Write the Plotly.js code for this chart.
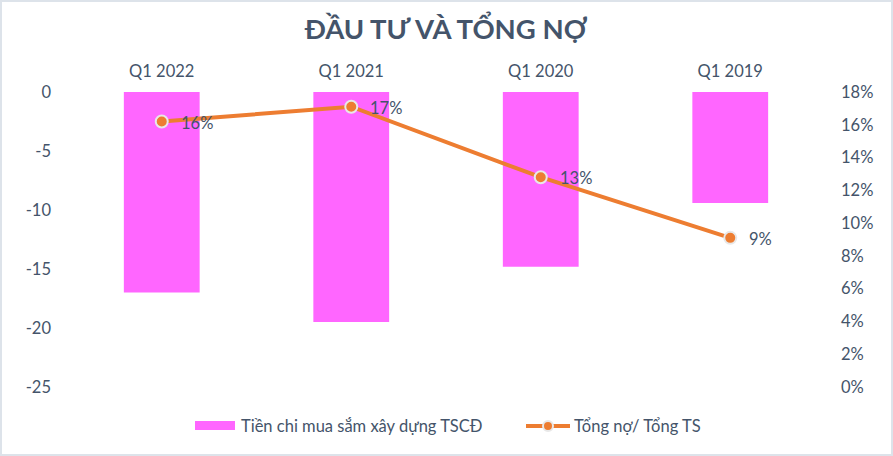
<!DOCTYPE html>
<html>
<head>
<meta charset="utf-8">
<script src="https://cdn.plot.ly/plotly-3.0.1.min.js"></script>
<style>
html,body{margin:0;padding:0;background:#fff;}
#wrap{position:relative;width:893px;height:456px;}
#chart{width:893px;height:456px;}
#frame{position:absolute;left:0;top:0;width:893px;height:456px;box-sizing:border-box;border:2px solid #dde3ea;pointer-events:none;}
</style>
</head>
<body>
<div id="wrap"><div id="chart"></div><div id="frame"></div></div>
<script>
const categories = ["Q1 2022", "Q1 2021", "Q1 2020", "Q1 2019"];
const capex = [-17.0, -19.5, -14.8, -9.4];
const debtRatio = [0.162, 0.171, 0.128, 0.091];
const debtLabels = ["16%", "17%", "13%", "9%"];
const leftTickVals = [0, -5, -10, -15, -20, -25];
const leftTickText = ["0", "-5", "-10", "-15", "-20", "-25"];
const barName = "Tiền chi mua sắm xây dựng TSCĐ";
const lineName = "Tổng nợ/ Tổng TS";

const textColor = "#44546a";
const font = "Lato, 'Open Sans', sans-serif";
const fs = 16.5;
const barColor = "#ff66ff";
const lineColor = "#ed7d31";

const traces = [
  {
    type: "bar",
    name: barName,
    x: categories,
    y: capex,
    marker: {color: barColor},
    yaxis: "y",
    showlegend: false
  },
  {
    type: "scatter",
    mode: "lines+markers",
    name: lineName,
    x: categories,
    y: debtRatio,
    yaxis: "y2",
    line: {color: lineColor, width: 4},
    marker: {color: lineColor, size: 12, line: {color: "#e8e8e8", width: 2}},
    showlegend: false
  }
];

// data labels for line points
const annotations = categories.map((c, i) => ({
  x: c, y: debtRatio[i], xref: "x", yref: "y2",
  text: debtLabels[i], showarrow: false,
  xanchor: "left", yanchor: "middle", xshift: 17, yshift: -1,
  font: {family: font, size: fs, color: textColor}
}));

// custom legend (paper coords: plot x 67..825, y 92..387)
const W = 758, H = 295;
const px = v => (v - 67) / W;
const py = v => (387 - v) / H;
annotations.push({
  x: px(239), y: py(426), xref: "paper", yref: "paper", showarrow: false,
  xanchor: "left", yanchor: "middle", text: barName,
  font: {family: font, size: fs, color: textColor}
});
annotations.push({
  x: px(572), y: py(426), xref: "paper", yref: "paper", showarrow: false,
  xanchor: "left", yanchor: "middle", text: lineName,
  font: {family: font, size: fs, color: textColor}
});
const shapes = [
  {type: "rect", xref: "paper", yref: "paper", x0: px(195), x1: px(235), y0: py(430), y1: py(421),
   fillcolor: barColor, line: {width: 0}},
  {type: "line", xref: "paper", yref: "paper", x0: px(526), x1: px(570), y0: py(426), y1: py(426),
   line: {color: lineColor, width: 4}},
  {type: "circle", xref: "paper", yref: "paper", x0: px(543), x1: px(553), y0: py(431), y1: py(421),
   fillcolor: lineColor, line: {color: "#e8e8e8", width: 2}}
];

const layout = {
  width: 893, height: 456,
  margin: {l: 67, r: 68, t: 92, b: 69},
  paper_bgcolor: "#ffffff",
  plot_bgcolor: "#ffffff",
  font: {family: font, size: fs, color: textColor},
  title: {
    text: "<b>ĐẦU TƯ VÀ TỔNG NỢ</b>",
    font: {family: font, size: 27.5, color: textColor},
    x: 0.5, xanchor: "center", xref: "paper",
    y: 0.935, yanchor: "middle", yref: "container"
  },
  bargap: 0.6,
  showlegend: false,
  annotations: annotations,
  shapes: shapes,
  xaxis: {
    side: "top",
    type: "category",
    showgrid: false, zeroline: false, showline: false, ticks: "",
    tickfont: {family: font, size: fs, color: textColor},
    ticklabelstandoff: 11
  },
  yaxis: {
    range: [-25, 0],
    tickvals: leftTickVals,
    ticktext: leftTickText,
    showgrid: false, zeroline: false, showline: false, ticks: "",
    tickfont: {family: font, size: fs, color: textColor},
    ticklabelstandoff: 15
  },
  yaxis2: {
    overlaying: "y",
    side: "right",
    range: [0, 0.18],
    dtick: 0.02,
    tickformat: ".0%",
    showgrid: false, zeroline: false, showline: false, ticks: "",
    tickfont: {family: font, size: fs, color: textColor},
    ticklabelstandoff: 15
  }
};

Plotly.newPlot("chart", traces, layout, {displayModeBar: false, staticPlot: true});
</script>
</body>
</html>
